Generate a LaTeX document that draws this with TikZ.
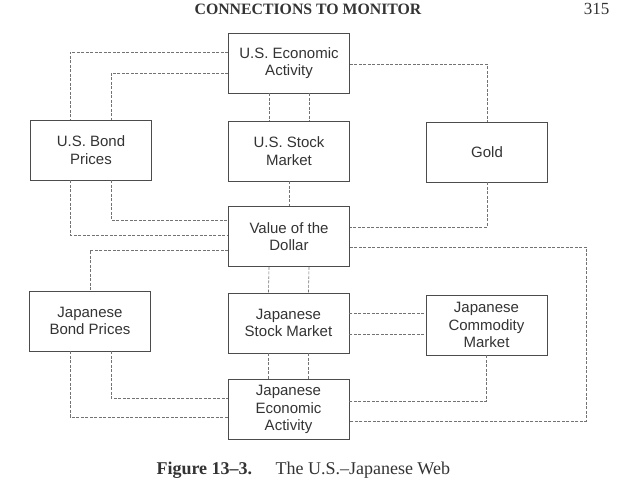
\documentclass[tikz,border=0pt]{standalone}
\usepackage{fontspec}
\setmainfont{Liberation Serif}
\newfontfamily\boxfont{Liberation Sans}
\begin{document}
\begin{tikzpicture}[x=1pt,y=-1pt,
  box/.style={draw=black!70, line width=0.9pt, minimum width=121pt, minimum height=60pt,
    inner sep=0pt, align=center, text=black!80,
    font=\boxfont\fontsize{15}{17.5}\selectfont},
  link/.style={draw=black!55, line width=0.6pt, dash pattern=on 3pt off 1.5pt}]
\useasboundingbox (0,0) rectangle (625,502);
% header and caption
\node[anchor=base, font=\bfseries\fontsize{15.8}{18}\selectfont, text=black!80] (hd) at (308,15) {CONNECTIONS TO MONITOR};
\node[anchor=base, font=\fontsize{17}{20}\selectfont, text=black!80] (pg) at (596.5,15) {315};
\node[anchor=base west, font=\bfseries\fontsize{18}{20}\selectfont, text=black!80] (fig) at (153,475) {Figure 13--3.};
\node[anchor=base west, font=\fontsize{18}{20}\selectfont, text=black!80] (cap) at (272,475) {The U.S.--Japanese Web};
% boxes
\node[box] (econ)   at (289,63)    {U.S. Economic\\Activity};
\node[box] (bond)   at (91,150)    {U.S. Bond\\Prices};
\node[box] (stock)  at (289,151)   {U.S. Stock\\Market};
\node[box] (gold)   at (487,152)   {Gold};
\node[box] (dollar) at (289,236.5) {Value of the\\Dollar};
\node[box] (jbond)  at (90,321)    {Japanese\\Bond Prices};
\node[box] (jstock) at (288.5,323) {Japanese\\Stock Market};
\node[box] (jcomm)  at (486.5,325) {Japanese\\Commodity\\Market};
\node[box] (jecon)  at (288.5,409.5) {Japanese\\Economic\\Activity};
% connectors
\draw[link] ([yshift=11pt]econ.west) -| ([xshift=-21pt]bond.north);
\draw[link] ([yshift=-10pt]econ.west) -| ([xshift=20pt]bond.north);
\draw[link] ([yshift=-1pt]econ.east) -| (gold.north);
\draw[link] ([xshift=-20pt]econ.south) -- ([xshift=-20pt]stock.north);
\draw[link] ([xshift=20pt]econ.south) -- ([xshift=20pt]stock.north);
\draw[link] (stock.south) -- (dollar.north);
\draw[link] ([xshift=-21pt]bond.south) |- ([yshift=1.5pt]dollar.west);
\draw[link] ([xshift=20pt]bond.south) |- ([yshift=16.5pt]dollar.west);
\draw[link] (gold.south) |- ([yshift=9.5pt]dollar.east);
\draw[link] ([yshift=-13.5pt]dollar.west) -| (jbond.north);
\draw[link] ([yshift=-10.5pt]dollar.east) -| ([xshift=237pt,yshift=-11.5pt]jecon.east) -- ([yshift=-11.5pt]jecon.east);
\draw[link] ([xshift=-20pt]dollar.south) -- ([xshift=-20pt]jstock.north);
\draw[link] ([xshift=20pt]dollar.south) -- ([xshift=20pt]jstock.north);
\draw[link] ([yshift=10pt]jstock.east) -- ([yshift=10pt]jstock.east -| jcomm.west);
\draw[link] ([yshift=-11pt]jstock.east) -- ([yshift=-11pt]jstock.east -| jcomm.west);
\draw[link] ([xshift=-20pt]jstock.south) -- ([xshift=-20pt]jecon.north);
\draw[link] ([xshift=20pt]jstock.south) -- ([xshift=20pt]jecon.north);
\draw[link] ([xshift=-20pt]jbond.south) |- ([yshift=-7.5pt]jecon.west);
\draw[link] ([xshift=21pt]jbond.south) |- ([yshift=11.5pt]jecon.west);
\draw[link] (jcomm.south) |- ([yshift=8.5pt]jecon.east);
\end{tikzpicture}
\end{document}
